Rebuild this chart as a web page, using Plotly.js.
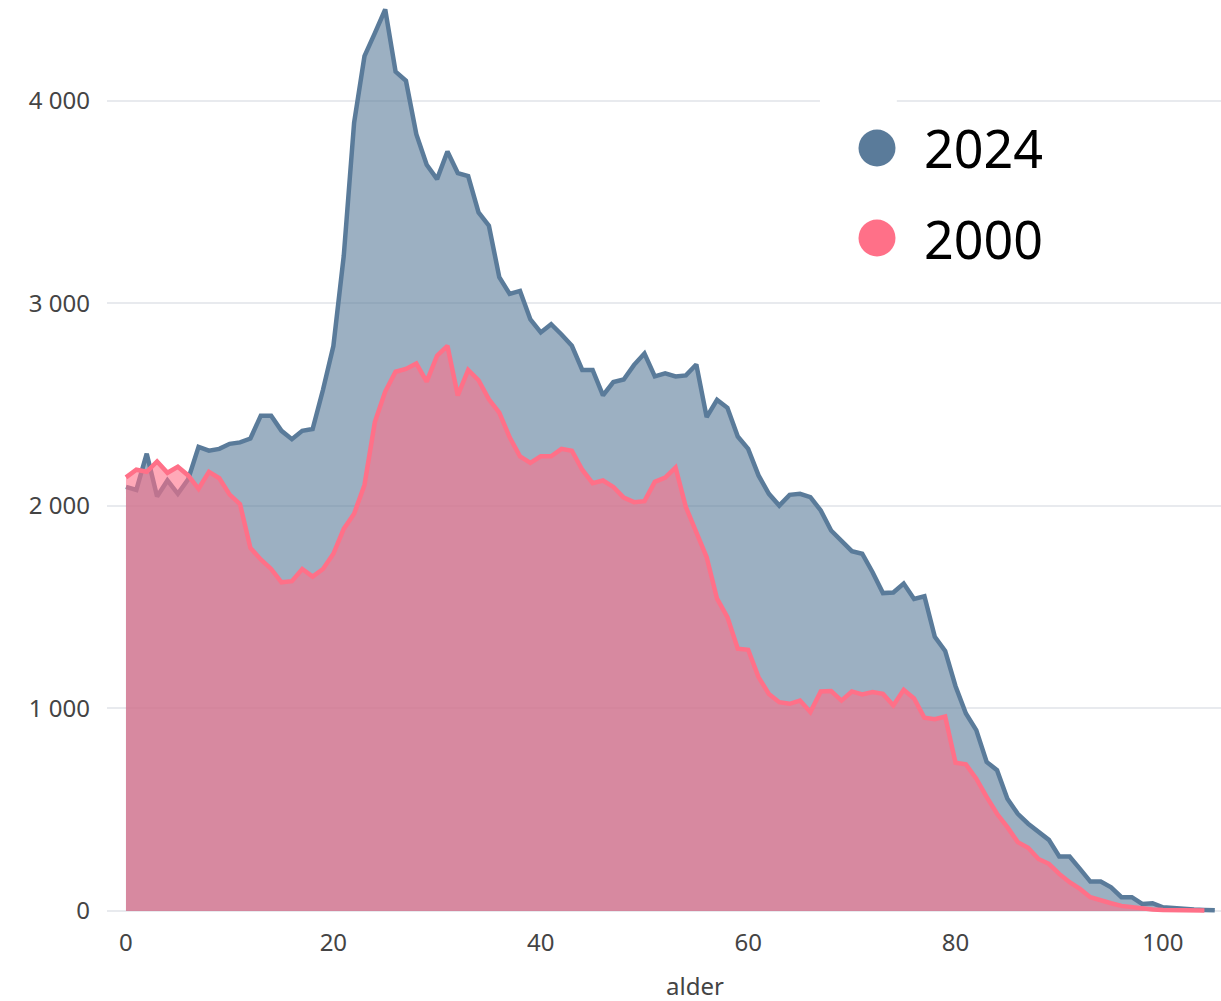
<!DOCTYPE html>
<html>
<head>
<meta charset="utf-8">
<script src="https://cdn.plot.ly/plotly-3.0.1.min.js"></script>
<style>html,body{margin:0;padding:0;background:#fff;}#chart{width:1221px;height:1001px;}</style>
</head>
<body>
<div id="chart"></div>
<script>
const seriesNames = ["2024", "2000"];
const ages2024 = Array.from({length: 106}, (_, i) => i);
const ages2000 = Array.from({length: 105}, (_, i) => i);
const values2024 = [2094,2079,2258,2047,2126,2060,2132,2292,2273,2282,
  2307,2314,2333,2446,2446,2371,2330,2371,2380,2574,
  2790,3234,3893,4222,4335,4452,4145,4100,3836,3685,
  3614,3751,3644,3629,3450,3384,3130,3047,3062,2921,
  2857,2898,2847,2791,2672,2672,2546,2612,2625,2697,
  2753,2640,2655,2640,2645,2699,2439,2524,2485,2343,
  2282,2151,2060,2002,2055,2060,2044,1978,1879,1826,
  1777,1764,1673,1570,1573,1617,1541,1554,1354,1284,
  1110,975,893,736,695,554,480,431,389,351,
  269,269,208,145,145,117,68,68,35,38,
  18,13,8,7,5,3];
const values2000 = [2141,2179,2169,2220,2164,2194,2151,2085,2169,2137,
  2056,2009,1793,1736,1689,1623,1629,1689,1651,1689,
  1764,1887,1962,2104,2414,2565,2663,2677,2704,2614,
  2742,2791,2546,2672,2621,2527,2461,2339,2245,2213,
  2245,2245,2282,2273,2179,2113,2126,2094,2041,2019,
  2024,2119,2140,2190,1994,1868,1747,1542,1451,1295,
  1290,1155,1072,1031,1023,1039,982,1084,1086,1039,
  1084,1069,1081,1072,1015,1092,1049,954,947,960,
  732,724,653,563,480,414,340,312,257,233,
  183,142,109,68,51,38,25,18,10,7,
  5,3,3,3,2];
const xTicks = [0, 20, 40, 60, 80, 100];
const xTitle = "alder";

const blueLine = "#5a7b9a", blueFill = "rgba(90,123,154,0.6)";
const pinkLine = "#ff7088", pinkFill = "rgba(255,112,136,0.6)";

const traces = [
  {x: ages2024, y: values2024, name: seriesNames[0], type: "scatter", mode: "lines",
   fill: "tozeroy", fillcolor: blueFill, line: {color: blueLine, width: 4.5}, showlegend: false},
  {x: ages2000, y: values2000, name: seriesNames[1], type: "scatter", mode: "lines",
   fill: "tozeroy", fillcolor: pinkFill, line: {color: pinkLine, width: 4.5}, showlegend: false}
];

const legendColors = [blueLine, pinkLine];
const legendY = [0.8381, 0.7396];
const shapes = [
  {type: "rect", xref: "paper", yref: "y", x0: 0.640, x1: 0.709, y0: 3960, y1: 4040,
   fillcolor: "#ffffff", line: {width: 0}, layer: "above"}
];
const annotations = [
  {xref: "paper", yref: "paper", x: 0.528, y: -0.0777, xanchor: "center", yanchor: "middle",
   text: xTitle, showarrow: false, font: {family: "Noto Sans, sans-serif", size: 24, color: "#444"}}
];
seriesNames.forEach((n, i) => {
  shapes.push({type: "circle", xref: "paper", yref: "paper", xsizemode: "pixel", ysizemode: "pixel",
    xanchor: 0.6912, yanchor: legendY[i], x0: -18.5, x1: 18.5, y0: -18.5, y1: 18.5,
    fillcolor: legendColors[i], line: {width: 0}, layer: "above"});
  annotations.push({xref: "paper", yref: "paper", x: 0.7316, y: legendY[i], xanchor: "left", yanchor: "middle",
    text: n, showarrow: false, font: {family: "Noto Sans, sans-serif", size: 52, color: "#000"}});
});

const layout = {
  width: 1221, height: 1001,
  margin: {l: 107, r: 0, t: 0, b: 87},
  paper_bgcolor: "#ffffff", plot_bgcolor: "#ffffff",
  separators: ", ",
  font: {family: "Noto Sans, sans-serif", size: 24, color: "#444"},
  showlegend: false,
  xaxis: {range: [-1.83, 105.6], tickvals: xTicks, showgrid: false, zeroline: false,
    showline: false, ticks: "", ticklabelstandoff: 12, tickfont: {size: 24, color: "#444"}},
  yaxis: {range: [-15, 4498.8], dtick: 1000, tick0: 0, separatethousands: true,
    showgrid: true, gridcolor: "#e8eaee", gridwidth: 2, zeroline: false, showline: false,
    ticks: "", ticklabelstandoff: 16, tickfont: {size: 24, color: "#444"}},
  shapes: shapes,
  annotations: annotations
};

Plotly.newPlot("chart", traces, layout, {displayModeBar: false, staticPlot: true});
</script>
</body>
</html>
